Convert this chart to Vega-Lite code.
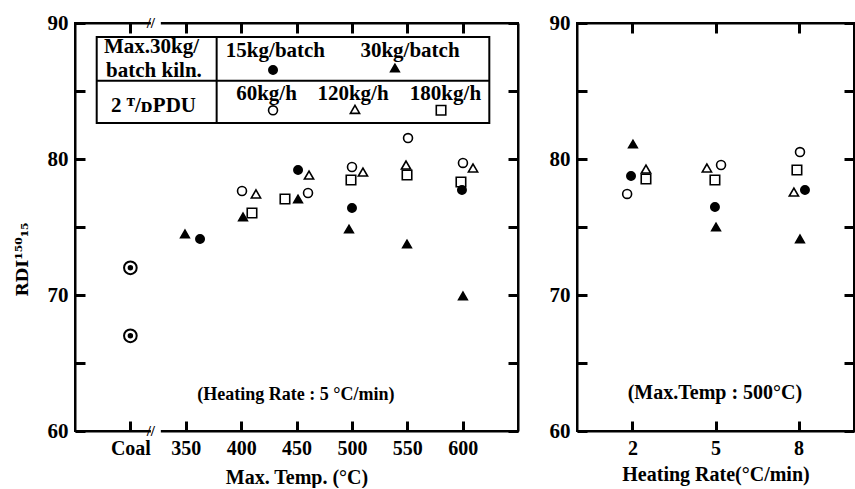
{
  "$schema": "https://vega.github.io/schema/vega-lite/v6.json",
  "padding": {"left": 12, "top": 11, "right": 0, "bottom": 0},
  "spacing": 27,
  "background": "white",
  "config": {
    "font": "Liberation Serif",
    "view": {"stroke": "black", "strokeWidth": 2},
    "axis": {
      "grid": false,
      "domain": true,
      "domainColor": "black",
      "domainWidth": 2,
      "ticks": true,
      "tickColor": "#000000",
      "tickOpacity": 1,
      "tickWidth": 3,
      "tickSize": -10,
      "labelColor": "black",
      "titleColor": "black",
      "labelFont": "Liberation Serif",
      "titleFont": "Liberation Serif",
      "labelFontWeight": "bold",
      "titleFontWeight": "bold",
      "labelFlush": false,
      "labelOverlap": false
    },
    "text": {"font": "Liberation Serif", "color": "black", "fontWeight": "bold"}
  },
  "datasets": {
    "leftPoints": [
      {"x": 349.3, "y": 74.49, "s": "30kg/batch"},
      {"x": 362.9, "y": 74.12, "s": "15kg/batch"},
      {"x": 400.8, "y": 77.65, "s": "60kg/h"},
      {"x": 413.4, "y": 77.43, "s": "120kg/h"},
      {"x": 401.7, "y": 75.74, "s": "30kg/batch"},
      {"x": 409.8, "y": 76.03, "s": "180kg/h"},
      {"x": 439.6, "y": 77.06, "s": "180kg/h"},
      {"x": 451.4, "y": 77.06, "s": "30kg/batch"},
      {"x": 460.4, "y": 77.5, "s": "60kg/h"},
      {"x": 451.4, "y": 79.19, "s": "15kg/batch"},
      {"x": 461.3, "y": 78.82, "s": "120kg/h"},
      {"x": 500.1, "y": 79.41, "s": "60kg/h"},
      {"x": 510.0, "y": 79.04, "s": "120kg/h"},
      {"x": 499.2, "y": 78.46, "s": "180kg/h"},
      {"x": 500.1, "y": 76.4, "s": "15kg/batch"},
      {"x": 497.4, "y": 74.85, "s": "30kg/batch"},
      {"x": 550.7, "y": 81.54, "s": "60kg/h"},
      {"x": 548.9, "y": 79.56, "s": "120kg/h"},
      {"x": 549.8, "y": 78.82, "s": "180kg/h"},
      {"x": 549.8, "y": 73.75, "s": "30kg/batch"},
      {"x": 600.3, "y": 79.71, "s": "60kg/h"},
      {"x": 609.4, "y": 79.34, "s": "120kg/h"},
      {"x": 598.5, "y": 78.31, "s": "180kg/h"},
      {"x": 599.4, "y": 77.72, "s": "15kg/batch"},
      {"x": 600.3, "y": 69.93, "s": "30kg/batch"},
      {"x": 428.8, "y": 86.54, "s": "15kg/batch"},
      {"x": 538.9, "y": 86.69, "s": "30kg/batch"},
      {"x": 428.8, "y": 83.58, "s": "60kg/h"},
      {"x": 502.8, "y": 83.65, "s": "120kg/h"},
      {"x": 580.5, "y": 83.58, "s": "180kg/h"}
    ],
    "coal": [
      {"x": 300, "y": 72.0},
      {"x": 300, "y": 67.0}
    ],
    "rightPoints": [
      {"x": 2.02, "y": 81.1, "s": "30kg/batch"},
      {"x": 1.95, "y": 78.75, "s": "15kg/batch"},
      {"x": 2.49, "y": 79.26, "s": "120kg/h"},
      {"x": 2.49, "y": 78.53, "s": "180kg/h"},
      {"x": 1.81, "y": 77.43, "s": "60kg/h"},
      {"x": 4.69, "y": 79.34, "s": "120kg/h"},
      {"x": 5.2, "y": 79.56, "s": "60kg/h"},
      {"x": 4.98, "y": 78.46, "s": "180kg/h"},
      {"x": 4.98, "y": 76.47, "s": "15kg/batch"},
      {"x": 5.02, "y": 75.0, "s": "30kg/batch"},
      {"x": 8.05, "y": 80.51, "s": "60kg/h"},
      {"x": 7.94, "y": 79.19, "s": "180kg/h"},
      {"x": 7.83, "y": 77.57, "s": "120kg/h"},
      {"x": 8.23, "y": 77.72, "s": "15kg/batch"},
      {"x": 8.05, "y": 74.12, "s": "30kg/batch"}
    ],
    "tableBox": [
      {"x": 269.6, "x2": 624.1, "y": 82.65, "y2": 88.97}
    ],
    "tableRules": [
      {"x": 269.6, "x2": 624.1, "y": 85.76, "y2": 85.76},
      {"x": 377.9, "x2": 377.9, "y": 82.65, "y2": 88.97}
    ],
    "tableText": [
      {"x": 319.1, "y": 87.82, "t": "Max.30kg/"},
      {"x": 321.3, "y": 86.03, "t": "batch kiln."},
      {"x": 320.9, "y": 83.46, "t": "2 ᵀ/ᴅPDU"},
      {"x": 431.0, "y": 87.5, "t": "15kg/batch"},
      {"x": 552.5, "y": 87.5, "t": "30kg/batch"},
      {"x": 422.9, "y": 84.34, "t": "60kg/h"},
      {"x": 501.0, "y": 84.34, "t": "120kg/h"},
      {"x": 584.5, "y": 84.34, "t": "180kg/h"}
    ],
    "leftNote": [
      {"x": 449.5, "y": 62.28, "t": "(Heating Rate : 5 °C/min)"}
    ],
    "rightNote": [
      {"x": 4.98, "y": 62.35, "t": "(Max.Temp : 500°C)"}
    ],
    "breaks": [
      {"x": 318.5, "x2": 327.5, "y": 59.6, "y2": 60.4, "yc": 60},
      {"x": 318.5, "x2": 327.5, "y": 89.6, "y2": 90.4, "yc": 90}
    ]
  },
  "resolve": {"scale": {"x": "independent", "y": "independent"}},
  "hconcat": [
    {
      "width": 443,
      "height": 408,
      "resolve": {"axis": {"x": "independent", "y": "independent"}},
      "layer": [
        {
          "data": {"name": "leftPoints"},
          "mark": {"type": "point", "filled": true, "stroke": "black", "strokeWidth": 1.6, "opacity": 1},
          "encoding": {
            "x": {"field": "x", "type": "quantitative",
              "scale": {"domain": [250, 650], "nice": false, "zero": false},
              "axis": {"orient": "bottom", "values": [300, 350, 400, 450, 500, 550, 600],
                "labelExpr": "datum.value == 300 ? 'Coal' : datum.label",
                "title": "Max.  Temp. (°C)", "labelFontSize": 20, "titleFontSize": 20,
                "labelPadding": 17, "titlePadding": 9}},
            "y": {"field": "y", "type": "quantitative",
              "scale": {"domain": [60, 90], "nice": false, "zero": false},
              "axis": {"orient": "left", "values": [60, 65, 70, 75, 80, 85, 90],
                "labelExpr": "datum.value % 10 == 0 ? datum.label : ''",
                "title": "RDI¹⁵⁰₁₅", "titleFont": "DejaVu Serif", "labelFontSize": 21, "titleFontSize": 17,
                "labelPadding": 17, "titlePadding": 16, "titleY": 236}},
            "shape": {"field": "s", "type": "nominal",
              "scale": {"domain": ["15kg/batch", "30kg/batch", "60kg/h", "120kg/h", "180kg/h"],
                "range": ["circle", "triangle-up", "circle", "triangle-up", "square"]}, "legend": null},
            "fill": {"field": "s", "type": "nominal",
              "scale": {"domain": ["15kg/batch", "30kg/batch", "60kg/h", "120kg/h", "180kg/h"],
                "range": ["black", "black", "white", "white", "white"]}, "legend": null},
            "size": {"field": "s", "type": "nominal",
              "scale": {"domain": ["15kg/batch", "30kg/batch", "60kg/h", "120kg/h", "180kg/h"],
                "range": [70, 90, 65, 80, 55]}, "legend": null}
          }
        },
        {
          "data": {"name": "coal"},
          "mark": {"type": "point", "filled": false, "stroke": "black", "strokeWidth": 2, "size": 160, "opacity": 1},
          "encoding": {
            "x": {"field": "x", "type": "quantitative",
              "axis": {"orient": "top", "values": [300, 350, 400, 450, 500, 550, 600], "labels": false, "title": null}},
            "y": {"field": "y", "type": "quantitative",
              "axis": {"orient": "right", "values": [60, 65, 70, 75, 80, 85, 90], "labels": false, "title": null}}
          }
        },
        {
          "data": {"name": "coal"},
          "mark": {"type": "point", "filled": true, "fill": "black", "size": 30, "opacity": 1},
          "encoding": {
            "x": {"field": "x", "type": "quantitative", "axis": null},
            "y": {"field": "y", "type": "quantitative", "axis": null}
          }
        },
        {
          "data": {"name": "tableBox"},
          "mark": {"type": "rect", "filled": false, "stroke": "black", "strokeWidth": 2},
          "encoding": {
            "x": {"field": "x", "type": "quantitative", "axis": null},
            "x2": {"field": "x2"},
            "y": {"field": "y", "type": "quantitative", "axis": null},
            "y2": {"field": "y2"}
          }
        },
        {
          "data": {"name": "tableRules"},
          "mark": {"type": "rule", "color": "black", "strokeWidth": 2},
          "encoding": {
            "x": {"field": "x", "type": "quantitative", "axis": null},
            "x2": {"field": "x2"},
            "y": {"field": "y", "type": "quantitative", "axis": null},
            "y2": {"field": "y2"}
          }
        },
        {
          "data": {"name": "tableText"},
          "mark": {"type": "text", "align": "center", "baseline": "alphabetic", "fontSize": 21},
          "encoding": {
            "x": {"field": "x", "type": "quantitative", "axis": null},
            "y": {"field": "y", "type": "quantitative", "axis": null},
            "text": {"field": "t"}
          }
        },
        {
          "data": {"name": "breaks"},
          "mark": {"type": "rect", "fill": "white"},
          "encoding": {
            "x": {"field": "x", "type": "quantitative", "axis": null},
            "x2": {"field": "x2"},
            "y": {"field": "y", "type": "quantitative", "axis": null},
            "y2": {"field": "y2"}
          }
        },
        {
          "data": {"name": "breaks"},
          "mark": {"type": "text", "text": "//", "fontSize": 15, "fontWeight": "bold", "align": "center", "baseline": "middle"},
          "encoding": {
            "x": {"field": "x", "type": "quantitative", "axis": null},
            "y": {"field": "yc", "type": "quantitative", "axis": null}
          }
        },
        {
          "data": {"name": "leftNote"},
          "mark": {"type": "text", "align": "center", "baseline": "alphabetic", "fontSize": 18},
          "encoding": {
            "x": {"field": "x", "type": "quantitative", "axis": null},
            "y": {"field": "y", "type": "quantitative", "axis": null},
            "text": {"field": "t"}
          }
        }
      ]
    },
    {
      "width": 277,
      "height": 408,
      "resolve": {"axis": {"x": "independent", "y": "independent"}},
      "layer": [
        {
          "data": {"name": "rightPoints"},
          "mark": {"type": "point", "filled": true, "stroke": "black", "strokeWidth": 1.6, "opacity": 1},
          "encoding": {
            "x": {"field": "x", "type": "quantitative",
              "scale": {"domain": [0, 10], "nice": false, "zero": false},
              "axis": {"orient": "bottom", "values": [2, 5, 8],
                "title": "Heating Rate(°C/min)", "labelFontSize": 20, "titleFontSize": 20,
                "labelPadding": 17, "titlePadding": 6}},
            "y": {"field": "y", "type": "quantitative",
              "scale": {"domain": [60, 90], "nice": false, "zero": false},
              "axis": {"orient": "left", "values": [60, 65, 70, 75, 80, 85, 90],
                "labelExpr": "datum.value % 10 == 0 ? datum.label : ''",
                "title": null, "labelFontSize": 21, "labelPadding": 17}},
            "shape": {"field": "s", "type": "nominal",
              "scale": {"domain": ["15kg/batch", "30kg/batch", "60kg/h", "120kg/h", "180kg/h"],
                "range": ["circle", "triangle-up", "circle", "triangle-up", "square"]}, "legend": null},
            "fill": {"field": "s", "type": "nominal",
              "scale": {"domain": ["15kg/batch", "30kg/batch", "60kg/h", "120kg/h", "180kg/h"],
                "range": ["black", "black", "white", "white", "white"]}, "legend": null},
            "size": {"field": "s", "type": "nominal",
              "scale": {"domain": ["15kg/batch", "30kg/batch", "60kg/h", "120kg/h", "180kg/h"],
                "range": [70, 90, 65, 80, 55]}, "legend": null}
          }
        },
        {
          "data": {"name": "rightPoints"},
          "mark": {"type": "point", "opacity": 0},
          "encoding": {
            "x": {"field": "x", "type": "quantitative",
              "axis": {"orient": "top", "values": [2, 5, 8], "labels": false, "title": null}},
            "y": {"field": "y", "type": "quantitative",
              "axis": {"orient": "right", "values": [60, 65, 70, 75, 80, 85, 90], "labels": false, "title": null}}
          }
        },
        {
          "data": {"name": "rightNote"},
          "mark": {"type": "text", "align": "center", "baseline": "alphabetic", "fontSize": 20},
          "encoding": {
            "x": {"field": "x", "type": "quantitative", "axis": null},
            "y": {"field": "y", "type": "quantitative", "axis": null},
            "text": {"field": "t"}
          }
        }
      ]
    }
  ]
}
